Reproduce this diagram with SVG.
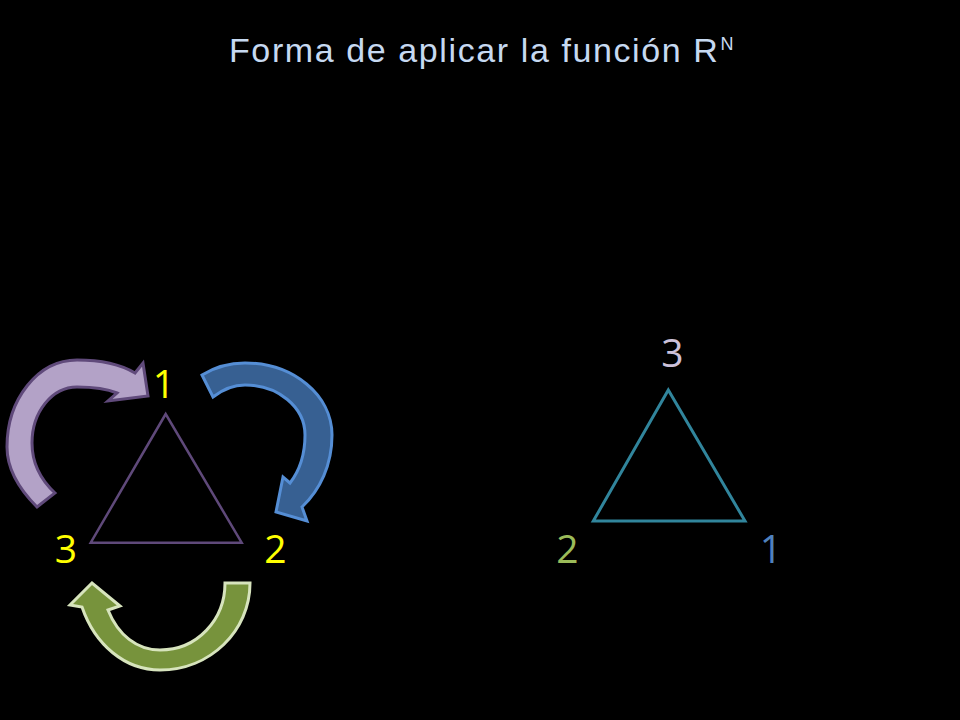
<svg xmlns="http://www.w3.org/2000/svg" width="960" height="720" viewBox="0 0 960 720">
<style>
.title{font-family:"Liberation Sans",Arial,sans-serif;font-size:34px;fill:#c6d9f1;letter-spacing:1.6px}
.sup{font-size:18px}
.num{font-family:"Open Sans","Liberation Sans",sans-serif;font-size:39px;text-anchor:middle}
.y{fill:#ffff00}
.arrow{stroke-width:3;stroke-linejoin:miter}
</style>
<rect width="960" height="720" fill="#000"/>
<g id="title">
<text class="title" x="229" y="62">Forma de aplicar la función R<tspan class="sup" dy="-12" dx="1">N</tspan></text>
</g>
<g id="left-triangle">
<polygon points="165.7,414 90.7,542.7 241.7,542.7" fill="none" stroke="#5f497a" stroke-width="2.5"/>
</g>
<g id="left-labels">
<text class="num y" x="164" y="397.5">1</text>
<text class="num y" x="66" y="563">3</text>
<text class="num y" x="275.5" y="563">2</text>
</g>
<g id="connectors">
<path id="arrow-purple" class="arrow" fill="#b3a2c7" stroke="#604a7b" d="M37,507 C20,490 7,470 7,447 C7,399 38,360 77,360 C100,360 120,364 135,373 L143,363 L148,396 L108,401 L117,393 C105,388 90,387 77,387 C52,387 32,412 32,443 C32,463 41,480 55,493 Z"/>
<path id="arrow-blue" class="arrow" fill="#376092" stroke="#558ed5" d="M202,375 C215,367 230,363 245,363 C293,363 332,395 332,435 C332,465 320,490 302,507 L307,521 L276,512 L283,477 L290,483 C300,470 305,452 305,435 C305,407 278,385 245,385 C233,385 222,390 213,397 Z"/>
<path id="arrow-green" class="arrow" fill="#77933c" stroke="#d7e4bd" d="M250,583 C250,631 210,670 160,670 C125,670 95,645 82,607 L70,605 L92,583 L120,606 L108,610 C118,635 137,650 160,650 C197,650 225,620 225,583 Z"/>
</g>
<g id="right-triangle">
<polygon points="668.3,390 593.3,521 745,521" fill="none" stroke="#31859c" stroke-width="3"/>
</g>
<g id="right-labels">
<text class="num" x="672.5" y="367" fill="#ccc1da">3</text>
<text class="num" x="567.5" y="563" fill="#9bbb59">2</text>
<text class="num" x="771" y="563" fill="#4f81bd">1</text>
</g>
</svg>
